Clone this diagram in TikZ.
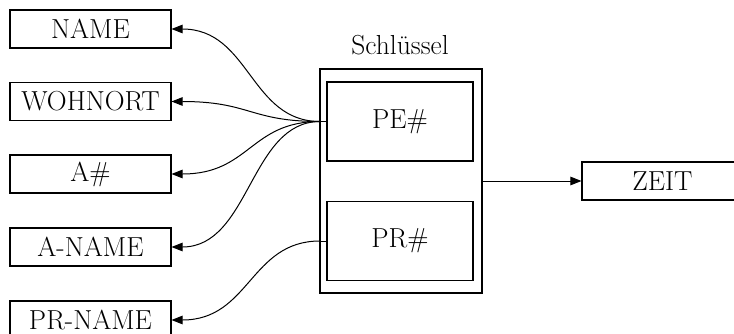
\documentclass[tikz,border=0pt]{standalone}
\usetikzlibrary{arrows.meta}
\begin{document}
\begin{tikzpicture}[x=1pt,y=-1pt,
  lbl/.style={font=\fontsize{27.5}{31}\selectfont},
  attr/.style={draw, line width=1.1pt, minimum width=161pt, minimum height=38pt, inner sep=0pt, lbl},
  keybox/.style={draw, line width=1.1pt, minimum width=146pt, minimum height=79pt, inner sep=0pt, lbl},
  conn/.style={line width=1pt, -{Triangle[length=11pt,width=8.5pt]}}]
\useasboundingbox (0,0) rectangle (734,333);
\node[attr] (name) at (90.5,29) {NAME};
\node[attr] (wohnort) at (90.5,101.5) {WOHNORT};
\node[attr] (anr) at (90.5,174) {A\#};
\node[attr] (aname) at (90.5,247) {A-NAME};
\node[attr] (prname) at (90.5,320) {PR-NAME};
\node[draw, line width=1.1pt, minimum width=162pt, minimum height=224pt, inner sep=0pt] (key) at (401,181) {};
\node[lbl] (keylabel) at (400,45) {Schlüssel};
\node[keybox] (pe) at (400,121.5) {PE\#};
\node[keybox] (pr) at (400,241) {PR\#};
\node[attr] (zeit) at (662.5,181) {ZEIT};
\coordinate (pa) at (320,121.5);
\coordinate (pb) at (320,241);
\draw[line width=1pt] (pe.west) -- (pa);
\draw[line width=1pt] (pr.west) -- (pb);
\draw[conn] (pa) .. controls (250,121.5) and (250,29) .. (name.east);
\draw[conn] (pa) .. controls (250,121.5) and (250,101.5) .. (wohnort.east);
\draw[conn] (pa) .. controls (250,121.5) and (250,174) .. (anr.east);
\draw[conn] (pa) .. controls (250,121.5) and (250,247) .. (aname.east);
\draw[conn] (pb) .. controls (250,241) and (250,320) .. (prname.east);
\draw[conn] (key.east) -- (zeit.west);
\end{tikzpicture}
\end{document}
